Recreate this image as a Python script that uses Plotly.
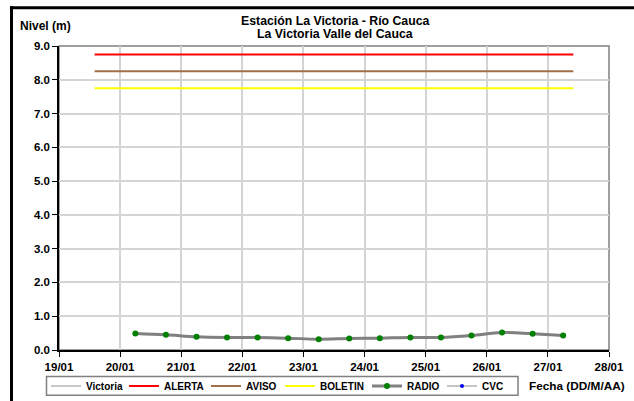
import plotly.graph_objects as go

# Data
times = ["2013-01-20 06:00", "2013-01-20 18:00", "2013-01-21 06:00", "2013-01-21 18:00",
         "2013-01-22 06:00", "2013-01-22 18:00", "2013-01-23 06:00", "2013-01-23 18:00",
         "2013-01-24 06:00", "2013-01-24 18:00", "2013-01-25 06:00", "2013-01-25 18:00",
         "2013-01-26 06:00", "2013-01-26 18:00", "2013-01-27 06:00"]
radio = [0.49, 0.45, 0.39, 0.37, 0.37, 0.35, 0.32, 0.34, 0.35, 0.37, 0.37, 0.43, 0.52, 0.48, 0.43]
victoria = radio
threshold_x = ["2013-01-19 14:00", "2013-01-27 10:00"]
alerta = [8.75, 8.75]
aviso = [8.25, 8.25]
boletin = [7.75, 7.75]
cvc_x = [None]
cvc_y = [None]
tick_vals = ["2013-01-%02d" % d for d in range(19, 29)]
tick_text = ["%02d/01" % d for d in range(19, 29)]

W, H = 634, 401
L, R, T, B = 59, 25, 45.5, 50.5
pw, ph = W - L - R, H - T - B


def px(x):
    return (x - L) / pw


def py(y):
    return (H - B - y) / ph


FONT = "Liberation Sans, Arial, sans-serif"
LEG_FONT = dict(family=FONT, size=10, color="black", weight="bold")
TICK_FONT = dict(family=FONT, size=11.5, color="black", weight="bold")

text_starts = [86, 164, 246, 320, 407, 482]
leg_ids = ["legend", "legend2", "legend3", "legend4", "legend5", "legend6"]

fig = go.Figure()
fig.add_trace(go.Scatter(x=times, y=victoria, name="Victoria", mode="lines", legend="legend",
                         line=dict(color="#c8c8c8", width=2, shape="spline")))
fig.add_trace(go.Scatter(x=threshold_x, y=alerta, name="ALERTA", mode="lines", legend="legend2",
                         line=dict(color="#ff0000", width=2)))
fig.add_trace(go.Scatter(x=threshold_x, y=aviso, name="AVISO", mode="lines", legend="legend3",
                         line=dict(color="#a0704a", width=2)))
fig.add_trace(go.Scatter(x=threshold_x, y=boletin, name="BOLETIN", mode="lines", legend="legend4",
                         line=dict(color="#ffff00", width=2)))
fig.add_trace(go.Scatter(x=times, y=radio, name="RADIO", mode="lines+markers", legend="legend5",
                         line=dict(color="#808080", width=3, shape="spline"),
                         marker=dict(color="#008000", size=6)))
fig.add_trace(go.Scatter(x=cvc_x, y=cvc_y, name="CVC", mode="lines+markers", legend="legend6",
                         line=dict(color="#b0b0b0", width=1.5),
                         marker=dict(color="#0000ff", size=4)))

legends = {}
for lid, xs in zip(leg_ids, text_starts):
    legends[lid] = dict(orientation="h", x=px(xs - 40), y=py(386.5), xanchor="left",
                        yanchor="middle", borderwidth=0, bgcolor="rgba(0,0,0,0)",
                        font=LEG_FONT, itemwidth=30)

fig.update_layout(
    width=W, height=H,
    margin=dict(l=L, r=R, t=T, b=B, autoexpand=False),
    paper_bgcolor="white", plot_bgcolor="white",
    font=dict(family=FONT, size=11, color="black"),
    showlegend=True,
    xaxis=dict(type="date", range=["2013-01-19", "2013-01-28"],
               tickvals=tick_vals, ticktext=tick_text, automargin=False,
               showgrid=True, gridcolor="#d4d4d4", gridwidth=1.5,
               showline=True, linecolor="black", linewidth=1.5,
               ticks="outside", ticklen=5, tickcolor="black",
               tickfont=TICK_FONT, zeroline=False),
    yaxis=dict(range=[0, 9], dtick=1, tickformat=".1f", automargin=False,
               showgrid=True, gridcolor="#d4d4d4", gridwidth=1.5,
               showline=True, linecolor="black", linewidth=1.5,
               ticks="outside", ticklen=5, tickcolor="black",
               tickfont=TICK_FONT, zeroline=False),
    shapes=[
        dict(type="rect", xref="paper", yref="paper", x0=0, x1=1, y0=0, y1=1,
             line=dict(color="#808080", width=1.5), layer="below"),
        dict(type="rect", xref="paper", yref="paper", x0=px(46.5), x1=px(518),
             y0=py(396), y1=py(377), line=dict(color="#808080", width=1.5)),
        dict(type="line", xref="paper", yref="paper", x0=px(11.5), x1=px(11.5),
             y0=py(5.5), y1=py(405), line=dict(color="black", width=3)),
        dict(type="line", xref="paper", yref="paper", x0=px(10), x1=px(634),
             y0=py(7), y1=py(7), line=dict(color="black", width=3)),
    ],
    annotations=[
        dict(text="<b>Estación La Victoria - Río Cauca</b>",
             xref="paper", yref="paper", x=px(335), y=py(20.5), xanchor="center",
             yanchor="middle", showarrow=False,
             font=dict(family=FONT, size=12.3, color="black")),
        dict(text="<b>La Victoria Valle del Cauca</b>",
             xref="paper", yref="paper", x=px(335), y=py(33), xanchor="center",
             yanchor="middle", showarrow=False,
             font=dict(family=FONT, size=12.3, color="black")),
        dict(text="<b>Nivel (m)</b>", xref="paper", yref="paper", x=px(18), y=py(25),
             xanchor="left", yanchor="middle", showarrow=False,
             font=dict(family=FONT, size=12, color="black")),
        dict(text="<b>Fecha (DD/M/AA)</b>", xref="paper", yref="paper", x=px(527), y=py(387),
             xanchor="left", yanchor="middle", showarrow=False,
             font=dict(family=FONT, size=11.8, color="black")),
    ],
    **legends,
)

fig.write_html("out.html", config={"displayModeBar": False},
               post_script="document.body.style.margin='0px';document.body.style.overflow='hidden';")
